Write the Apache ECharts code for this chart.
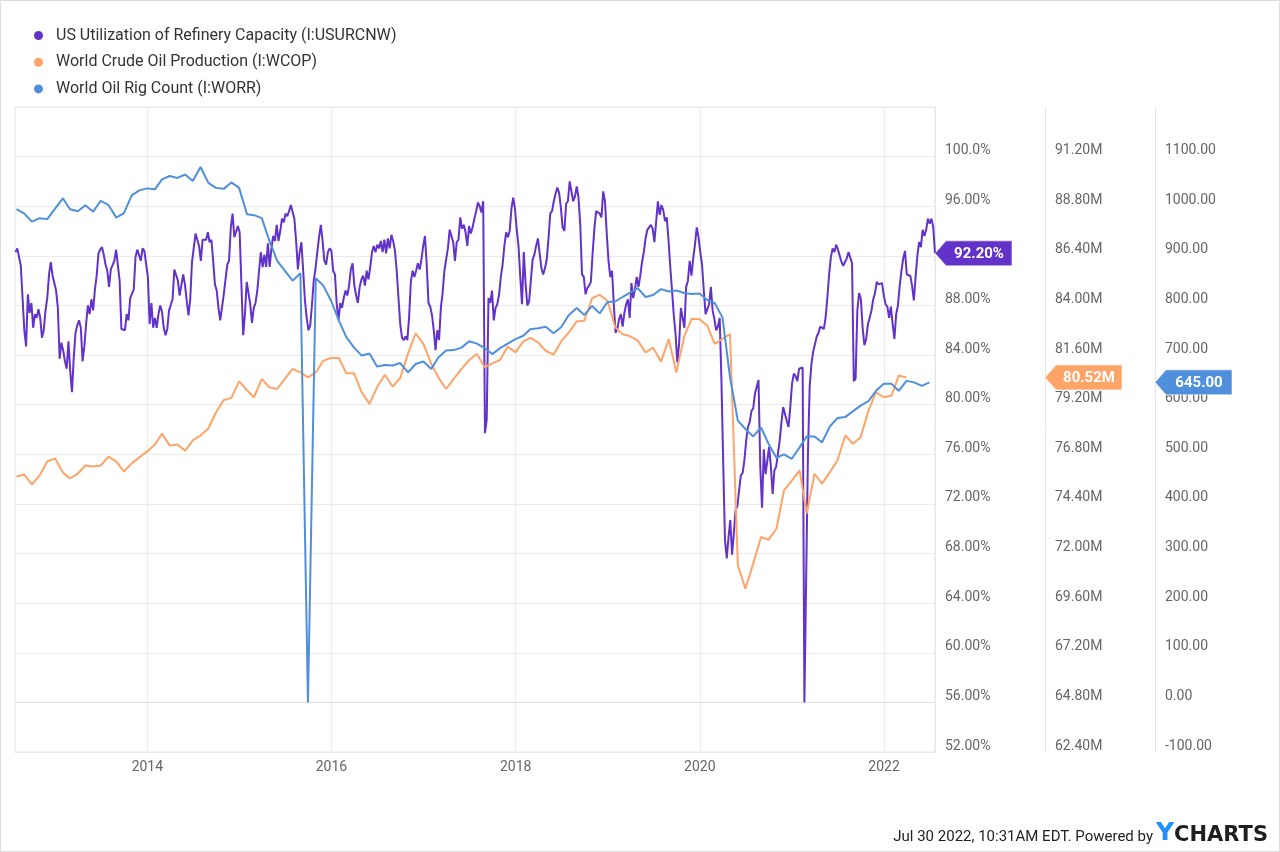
<!DOCTYPE html>
<html>
<head>
<meta charset="utf-8">
<script src="https://cdn.jsdelivr.net/npm/echarts@6/dist/echarts.min.js"></script>
<style>
html,body{margin:0;padding:0;background:#fff;}
#wrap{position:relative;width:1280px;height:852px;}
#chart{position:absolute;left:0;top:0;width:1280px;height:852px;}
#frame{position:absolute;left:0;top:0;width:1280px;height:852px;box-sizing:border-box;border:1px solid #dcdcdc;pointer-events:none;}
</style>
</head>
<body>
<div id="wrap"><div id="chart"></div><div id="frame"></div></div>
<script>
// ---------------- DATA ----------------
const seriesNames = [
  'US Utilization of Refinery Capacity (I:USURCNW)',
  'World Crude Oil Production (I:WCOP)',
  'World Oil Rig Count (I:WORR)'
];
const xAxisYears = [2014, 2016, 2018, 2020, 2022];

// Weekly refinery utilization (%), first week ending 2012-07-27
const utilStart = '2012-07-27';
const util2012to2015 = [
  92.3, 92.6, 92.6, 91.2, 91.1, 86.0, 84.7, 88.9, 87.4, 88.2,
  86.2, 87.3, 87.0, 87.7, 87.0, 85.4, 86.0, 87.6, 88.6, 90.5,
  91.5, 90.4, 90.3, 89.2, 87.8, 83.7, 85.0, 84.4, 83.5, 82.9,
  85.1, 82.7, 81.0, 83.8, 85.8, 86.4, 86.8, 86.2, 83.5, 84.7,
  86.5, 88.0, 87.3, 88.5, 87.6, 89.3, 90.4, 92.2, 92.5, 92.7,
  92.1, 91.3, 90.8, 89.5, 90.9, 91.0, 91.6, 92.5, 92.5, 90.0,
  86.1, 86.1, 86.0, 87.3, 86.8, 88.6, 88.6, 89.3, 91.9, 92.5,
  92.5, 91.6, 92.6, 92.4, 92.3, 90.3, 86.5, 88.2, 86.2, 87.0,
  86.2, 87.3, 88.0, 87.5, 86.2, 85.6, 86.1, 87.6, 87.6, 88.5,
  90.9, 91.0, 90.0, 88.8, 88.7, 90.5, 89.7, 88.4, 87.2, 88.5,
  91.5, 91.6, 93.8, 93.7, 92.8, 91.6, 93.3, 93.4, 93.3, 93.9,
  93.1, 93.3, 91.6, 89.7, 89.2, 87.8, 86.8, 86.7, 88.9, 90.1,
  91.3, 91.6, 94.3, 95.4, 93.5, 93.5, 94.4, 93.9, 89.7, 85.6,
  87.3, 89.9, 90.0
];
const util2015to2017 = [
  88.1, 86.6, 87.8, 88.2, 89.2, 90.8, 92.3, 91.1, 92.1, 91.1,
  93.0, 91.1, 92.6, 93.6, 93.2, 94.5, 93.2, 94.0, 95.0, 94.7,
  95.4, 95.2, 95.6, 96.1, 96.0, 95.0, 93.2, 90.9, 92.3, 93.1,
  90.8, 88.4, 87.0, 86.0, 86.4, 88.1, 90.0, 91.0, 92.3, 93.5,
  94.5, 93.2, 91.6, 91.3, 92.3, 92.6, 92.4, 90.8, 90.5, 88.1,
  86.8, 88.2, 87.8, 88.6, 89.2, 88.8, 89.6, 90.9, 91.4, 89.6,
  88.8, 88.2, 89.5, 90.1, 90.4, 89.6, 90.8, 90.1, 91.1, 92.3,
  92.8, 92.3, 92.9, 92.6, 93.2, 92.3, 93.3, 92.2, 93.4, 92.6,
  93.7, 93.2, 92.4, 90.8, 88.6, 86.5, 85.4, 85.2, 85.5, 85.2,
  87.0, 89.9, 90.8, 90.3, 90.8, 91.4, 90.9, 91.7, 92.8, 93.6,
  91.3, 88.2, 87.9, 87.2, 86.0, 84.4, 86.0, 85.2, 87.8, 89.0,
  90.8, 90.9, 92.6, 94.1, 94.0, 93.1, 91.6, 93.1, 93.3, 95.1,
  94.2, 94.5, 93.9, 92.8, 94.4, 93.8, 94.3, 95.0, 95.6, 96.3,
  96.0, 95.5, 96.4, 77.7, 78.8
];
const util2017to2020 = [
  88.6, 88.2, 89.2, 86.8, 87.8, 88.1, 88.9, 90.3, 91.3, 92.8,
  93.9, 93.5, 94.0, 95.8, 96.7, 95.8, 94.1, 92.8, 90.3, 88.1,
  92.3, 89.8, 88.0, 88.3, 90.0, 91.7, 92.1, 92.8, 93.4, 92.2,
  91.0, 90.5, 91.0, 91.7, 93.4, 95.4, 95.6, 96.4, 97.0, 97.5,
  97.1, 95.9, 94.3, 94.0, 96.2, 96.4, 98.0, 98.1, 96.4, 96.8,
  97.6, 96.7, 94.5, 90.5, 90.3, 88.9, 89.4, 89.6, 89.9, 92.2,
  94.2, 95.6, 95.5, 95.4, 95.1, 97.2, 96.4, 93.8, 91.6, 90.3,
  90.8, 88.1, 85.8, 86.1, 86.9, 87.3, 86.3, 87.4, 88.1, 88.5,
  87.0, 89.8, 88.6, 89.3, 90.3, 89.5, 90.4, 91.5, 92.3, 93.4,
  94.1, 94.3, 94.5, 94.2, 93.1, 93.1, 96.4, 95.3, 96.1, 95.7,
  94.8, 95.1, 93.3, 91.1, 89.2, 87.2, 85.7, 83.4, 84.9, 87.8,
  87.0, 86.2, 89.5, 90.0, 91.6, 90.4, 91.8, 92.9, 94.3, 93.5,
  92.3, 91.3, 89.2, 87.3, 87.3, 88.1, 89.5, 87.6, 86.9, 86.0,
  86.3
];
const util2020to2021 = [
  87.0, 81.9, 75.3, 69.1, 67.6, 69.3, 70.7, 67.9, 69.6, 71.5,
  71.8, 73.1, 74.3, 74.5, 75.5, 77.1, 78.2, 78.6, 79.5, 79.7,
  80.9, 81.0, 82.0, 75.0, 71.7, 76.4, 74.4, 75.5, 76.6, 75.0,
  72.8, 74.7, 75.0, 75.0, 77.1, 78.6, 79.8, 79.9, 78.7, 78.2,
  79.8, 81.7, 82.5, 82.3, 81.9, 82.9, 83.0, 83.0
];
const util2021to2022 = [
  56.0, 66.0, 76.0, 81.5, 83.3, 84.3, 84.9, 85.5, 85.8, 86.3,
  86.3, 86.1, 87.0, 88.6, 90.5, 91.9, 92.6, 92.3, 92.9, 92.5,
  92.0, 91.5, 91.2, 91.5, 91.8, 92.3, 92.3, 91.4, 81.9, 82.1,
  87.6, 89.0, 88.5, 86.2, 84.8, 85.3, 86.5, 87.0, 87.6, 88.5,
  89.0, 89.9, 89.7, 89.7, 89.8, 88.8, 88.1, 87.9, 87.0, 87.9,
  86.5, 85.3, 87.3, 88.0, 89.6, 90.8, 91.8, 92.4, 90.5, 90.6,
  90.4, 89.6, 88.4, 90.3, 92.0, 93.1, 92.7, 94.1, 93.6, 94.1,
  95.0, 94.6, 95.0, 94.3, 92.2
];

// Monthly series, first month July 2012 (month-end dates)
const monthlyStart = [2012, 7];
// World crude oil production, millions of barrels per day
const crudeProduction = [
  75.73, 75.82, 75.34, 75.78, 76.45, 76.60,
  75.92, 75.63, 75.87, 76.26, 76.21, 76.26, 76.69, 76.45, 75.97, 76.36, 76.65, 76.94,
  77.27, 77.80, 77.22, 77.27, 76.98, 77.47, 77.71, 78.05, 78.82, 79.43, 79.53, 80.33,
  79.90, 79.56, 80.45, 80.04, 79.96, 80.45, 80.93, 80.76, 80.52, 80.76, 81.33, 81.46,
  81.46, 80.72, 80.72, 79.80, 79.24, 80.04, 80.65, 80.07, 80.49, 81.68, 82.65, 82.14,
  81.17, 80.52, 79.96, 80.45, 80.93, 81.36, 81.65, 81.01, 81.20, 81.36, 82.01, 81.73,
  82.26, 82.43, 82.21, 81.81, 81.62, 82.26, 82.70, 83.23, 83.26, 84.34, 84.52, 84.23,
  82.94, 82.62, 82.51, 82.30, 81.73, 81.96, 81.28, 82.38, 80.76, 82.49, 83.36, 83.33,
  83.02, 82.14, 82.38, 82.62, 71.43, 70.30, 71.51, 72.80, 72.67, 73.20, 75.05, 75.53,
  76.02, 73.93, 75.86, 75.38, 75.94, 76.50, 77.71, 77.31, 77.63, 78.91, 79.80, 79.56,
  79.64, 80.61, 80.52
];
// World oil rig count
const rigCount = [
  994, 985, 969, 976, 974, 995,
  1016, 994, 990, 1002, 989, 1011, 1002, 977, 986, 1022, 1032, 1036,
  1034, 1054, 1061, 1057, 1064, 1051, 1079, 1047, 1037, 1035, 1048, 1037,
  984, 982, 976, 930, 890, 870, 850, 865, 0, 855, 840, 809,
  769, 736, 715, 699, 703, 677, 680, 679, 684, 665, 682, 687,
  672, 695, 709, 710, 715, 728, 723, 714, 702, 714, 723, 732,
  739, 752, 754, 757, 744, 756, 781, 795, 781, 799, 784, 807,
  808, 817, 826, 835, 817, 821, 833, 828, 830, 825, 823, 824,
  811, 805, 776, 655, 568, 551, 536, 554, 521, 493, 500, 491,
  514, 536, 536, 524, 556, 573, 575, 587, 598, 607, 628, 642,
  642, 628, 648, 645, 638, 645
];

// Axis ranges
const pctAxis = {min: 52, max: 104, interval: 4};
const prodAxis = {min: 62.4, max: 93.6, interval: 2.4};
const rigAxis = {min: -100, max: 1200, interval: 100};
const xRange = ['2012-07-25', '2022-07-22'];

const colors = ['#6232c9', '#ffa468', '#4f8fdb'];

// ---------------- BUILD ----------------
const DAY = 86400000;
function ts(s){ const p = s.split('-').map(Number); return Date.UTC(p[0], p[1]-1, p[2]); }
const utilValues = [].concat(util2012to2015, util2015to2017, util2017to2020, util2020to2021, util2021to2022);
const utilT0 = ts(utilStart);
const utilData = utilValues.map((v, i) => [utilT0 + i * 7 * DAY, v]);
function monthEnd(i){ return Date.UTC(monthlyStart[0], monthlyStart[1] - 1 + i + 1, 0); }
const prodData = crudeProduction.map((v, i) => [monthEnd(i), v]);
const rigData = rigCount.map((v, i) => [monthEnd(i), v]);
const yearTicks = xAxisYears.map(y => Date.UTC(y, 0, 1));

const FONT = 'Roboto, "Noto Sans", sans-serif';
const labelBase = {color: '#666', fontSize: 14, fontFamily: FONT, margin: 10, verticalAlign: 'bottom', lineHeight: 12};

function yAx(r, offset, fmt, grid){
  return {
    type: 'value', position: 'right', offset: offset,
    min: r.min, max: r.max, interval: r.interval,
    axisLine: {show: true, lineStyle: {color: '#e6e6e6', width: 1}},
    axisTick: {show: false},
    splitLine: {show: grid, lineStyle: {color: '#ebebeb', width: 1}},
    axisLabel: Object.assign({}, labelBase, {
      formatter: function(v){ if (Math.abs(v - r.max) < 1e-6) return ''; return fmt(v); },
      showMaxLabel: true, showMinLabel: true
    })
  };
}

const chart = echarts.init(document.getElementById('chart'), null, {renderer: 'canvas'});
const option = {
  animation: false,
  backgroundColor: '#fff',
  color: colors,
  textStyle: {fontFamily: FONT},
  legend: {
    show: true, orient: 'vertical', left: 34, top: 26.5,
    itemWidth: 9, itemHeight: 9, itemGap: 8.7, icon: 'circle', padding: 0,
    textStyle: {fontSize: 16, color: '#333', fontFamily: FONT, lineHeight: 18, padding: [0, 0, 0, 8]},
    data: seriesNames
  },
  grid: {left: 15, right: 345, top: 107, bottom: 100, show: true, borderColor: '#e6e6e6', borderWidth: 1, containLabel: false, outerBoundsMode: 'none'},
  xAxis: {
    type: 'value', min: ts(xRange[0]), max: ts(xRange[1]),
    axisLine: {show: true, lineStyle: {color: '#e0e0e0'}},
    axisTick: {show: false, customValues: yearTicks},
    splitLine: {show: true, lineStyle: {color: '#ebebeb', width: 1}},
    axisLabel: {color: '#666', fontSize: 14, fontFamily: FONT, margin: 8, customValues: yearTicks,
      formatter: function(v){ return String(new Date(v).getUTCFullYear()); }}
  },
  yAxis: [
    yAx(pctAxis, 0, v => v.toPrecision(4) + '%', true),
    yAx(prodAxis, 110, v => v.toFixed(2) + 'M', false),
    yAx(rigAxis, 220, v => v.toFixed(2), false)
  ],
  series: [
    {name: seriesNames[0], type: 'line', yAxisIndex: 0, data: utilData, showSymbol: false, symbol: 'none',
      lineStyle: {width: 2, color: colors[0]}, itemStyle: {color: colors[0]}},
    {name: seriesNames[1], type: 'line', yAxisIndex: 1, data: prodData, showSymbol: false, symbol: 'none',
      lineStyle: {width: 2, color: colors[1]}, itemStyle: {color: colors[1]}},
    {name: seriesNames[2], type: 'line', yAxisIndex: 2, data: rigData, showSymbol: false, symbol: 'none',
      lineStyle: {width: 2, color: colors[2]}, itemStyle: {color: colors[2]}}
  ]
};
chart.setOption(option);

// value flags on the axes (positions from the library's own scales)
const gridRight = 1280 - option.grid.right;
function flag(axisIdx, value, text, color){
  const x = gridRight + option.yAxis[axisIdx].offset;
  const y = chart.convertToPixel({yAxisIndex: axisIdx}, value);
  return {
    type: 'group', z: 100, zlevel: 1,
    children: [
      {type: 'polygon', z: 100, zlevel: 1, shape: {points: [[x, y], [x + 11, y - 12.5], [x + 77, y - 12.5], [x + 77, y + 12.5], [x + 11, y + 12.5]]},
        style: {fill: color, stroke: 'rgba(255,255,255,0.6)', lineWidth: 1}},
      {type: 'text', z: 101, zlevel: 1, x: x + 44, y: y + 1, style: {text: text, fill: '#fff', font: 'bold 15px ' + FONT, align: 'center', verticalAlign: 'middle'}}
    ]
  };
}
const lastUtil = utilValues[utilValues.length - 1];
const lastProd = crudeProduction[crudeProduction.length - 1];
const lastRig = rigCount[rigCount.length - 1];
chart.setOption({
  graphic: [
    flag(0, lastUtil, lastUtil.toFixed(2) + '%', colors[0]),
    flag(1, lastProd, lastProd.toFixed(2) + 'M', colors[1]),
    flag(2, lastRig, lastRig.toFixed(2), colors[2]),
    {type: 'text', right: 12, top: 821, z: 100,
      style: {
        text: '{a|Jul 30 2022, 10:31AM EDT. Powered by}{y|Y}{c|CHARTS}',
        rich: {
          a: {fontSize: 15, fontFamily: FONT, fill: '#222', verticalAlign: 'bottom', lineHeight: 22, padding: [0, 3, 1, 0]},
          y: {fontSize: 25, fontFamily: '"DejaVu Sans", sans-serif', fontWeight: 'bold', fill: '#1e90ff', verticalAlign: 'bottom', lineHeight: 24},
          c: {fontSize: 21, fontFamily: '"DejaVu Sans", sans-serif', fontWeight: 'bold', fill: '#1f1f1f', verticalAlign: 'bottom', lineHeight: 22}
        }
      }}
  ]
});
</script>
</body>
</html>
